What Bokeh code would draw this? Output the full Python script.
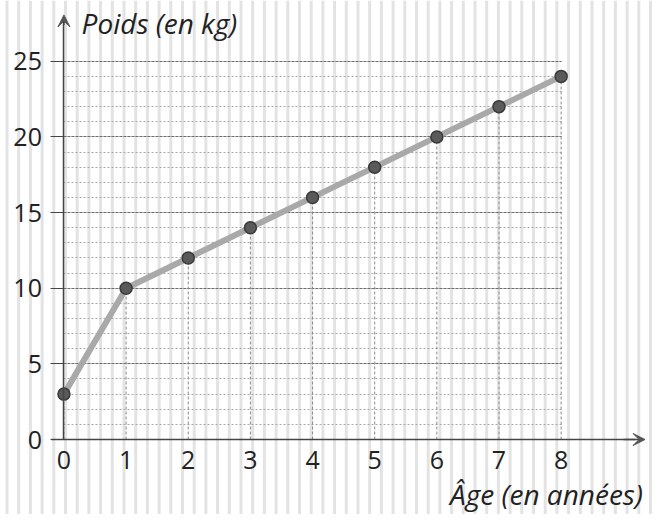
import numpy as np
from bokeh.plotting import figure
from bokeh.models import (LinearAxis, FixedTicker, Grid, SingleIntervalTicker,
                          Arrow, VeeHead, Label, Range1d)
from bokeh.embed import file_html
from bokeh.resources import INLINE

# ---- data ----
ages = [0, 1, 2, 3, 4, 5, 6, 7, 8]
weights = [3, 10, 12, 14, 16, 18, 20, 22, 24]
x_ticks = [0, 1, 2, 3, 4, 5, 6, 7, 8]
y_ticks = [0, 5, 10, 15, 20, 25]
x_label = "Âge (en années)"
y_label = "Poids (en kg)"

# ---- layout ----
W, H = 656, 514
X0_PX, Y0_PX = 63.45, 439.0   # pixel position of the origin inside the figure
SX, SY = 62.15, 15.13         # pixels per year / per kg

x_range = Range1d(-X0_PX / SX, (W - X0_PX) / SX)
y_range = Range1d(-(H - Y0_PX) / SY, Y0_PX / SY)

p = figure(width=W, height=H, x_range=x_range, y_range=y_range,
           x_axis_type=None, y_axis_type=None,
           output_backend="svg", toolbar_location=None,
           min_border=0, outline_line_color=None)
p.background_fill_color = "white"
p.border_fill_color = "white"

# paper stripes in the background
stripe_px = np.arange(6.5, W + 6, 11.7)
stripe_x = (stripe_px - X0_PX) / SX
rs = p.segment(x0=stripe_x, y0=y_range.start, x1=stripe_x, y1=y_range.end,
               line_color="#e3e3e3", line_width=3)
rs.level = "image"

# horizontal grid (every kg, darker every 5)
g = Grid(dimension=1, ticker=SingleIntervalTicker(interval=5, num_minor_ticks=5),
         bounds=(1, 25), cross_bounds=(0, 8))
g.grid_line_color = "#6e6e6e"
g.grid_line_dash = "3 1"
g.grid_line_width = 1
g.minor_grid_line_color = "#a8a8a8"
g.minor_grid_line_dash = "2 2"
g.minor_grid_line_width = 1
p.add_layout(g)

# dashed drop lines
p.segment(x0=ages, y0=[0] * len(ages), x1=ages, y1=weights,
          line_color="#8a8a8a", line_dash="3 2", line_width=1)

# curve and points
p.line(ages, weights, line_width=6, line_color="#a9a9a9")
p.scatter(ages, weights, size=12, fill_color="#5a5a5a", line_color="#3a3a3a",
          line_width=1.5)

# axes
font = "Open Sans"
xa = LinearAxis(fixed_location=0, ticker=FixedTicker(ticks=x_ticks),
                bounds=(-0.2, 9.2))
xa.major_tick_out = 0
xa.major_tick_in = 0
xa.minor_tick_out = 0
xa.minor_tick_in = 0
xa.axis_line_color = "#444444"
xa.axis_line_width = 1.5
xa.major_label_text_font = font
xa.major_label_text_font_size = "25px"
xa.major_label_text_color = "#222222"
xa.major_label_standoff = 11
p.add_layout(xa, "below")

ya = LinearAxis(fixed_location=0, ticker=FixedTicker(ticks=y_ticks),
                bounds=(0, 27.6))
ya.major_tick_out = 13
ya.major_tick_in = 0
ya.minor_tick_out = 0
ya.minor_tick_in = 0
ya.major_tick_line_color = "#444444"
ya.major_tick_line_width = 1.2
ya.axis_line_color = "#444444"
ya.axis_line_width = 1.5
ya.major_label_text_font = font
ya.major_label_text_font_size = "25px"
ya.major_label_text_color = "#222222"
ya.major_label_standoff = 9
p.add_layout(ya, "left")

# arrow heads
p.add_layout(Arrow(end=VeeHead(size=12, fill_color="#555555", line_color="#555555"),
                   x_start=9.0, y_start=0, x_end=9.35, y_end=0,
                   line_color="#444444", line_width=1.5))
p.add_layout(Arrow(end=VeeHead(size=12, fill_color="#555555", line_color="#555555"),
                   x_start=0, y_start=27.4, x_end=0, y_end=28.06,
                   line_color="#444444", line_width=1.5))

# axis titles
p.add_layout(Label(x=0.283, y=27.5, text=y_label, text_font=font,
                   text_font_style="italic", text_font_size="28px",
                   text_color="#222222", text_baseline="alphabetic"))
p.add_layout(Label(x=9.315, y=-3.6, text=x_label, text_font=font,
                   text_font_style="italic", text_font_size="28px",
                   text_color="#222222", text_baseline="alphabetic",
                   text_align="right"))

open("out.html", "w").write(file_html(p, INLINE))
